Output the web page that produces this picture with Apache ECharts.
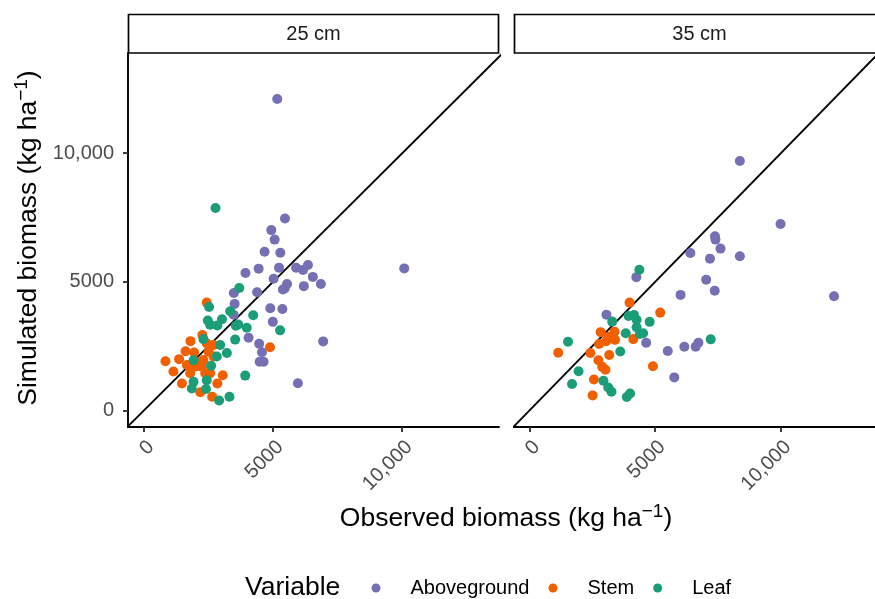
<!DOCTYPE html>
<html>
<head>
<meta charset="utf-8">
<script src="https://cdn.jsdelivr.net/npm/echarts@6/dist/echarts.min.js"></script>
<style>
  html, body { margin: 0; padding: 0; background: #fff; }
  #main { width: 875px; height: 599px; }
</style>
</head>
<body>
<div id="main"></div>
<script>
// observed / simulated biomass, kg ha-1  ([observed, simulated])
const panels = ['25 cm', '35 cm']
const variables = ['Aboveground', 'Stem', 'Leaf']
const colors = ['#7570B3', '#F06000', '#1B9E77']
const tickValues = [0, 5000, 10000]

const ag25 = [[5160, 12110], [5460, 7460], [4930, 7010], [5060, 6640], [4670, 6170], [5280, 6130],
  [3930, 5340], [4440, 5510], [5230, 5550], [5890, 5550], [6160, 5460], [6350, 5650], [6540, 5190],
  [6850, 4910], [6190, 4830], [5020, 5120], [5540, 4910], [5450, 4740], [5380, 4700], [10080, 5520],
  [4380, 4590], [3480, 4560], [3510, 4140], [4890, 3970], [5360, 3940], [3470, 3720], [4990, 3440],
  [4050, 2820], [4460, 2590], [6940, 2680], [4570, 2260], [4480, 1890], [4630, 1890], [5960, 1050]]
const st25 = [[2430, 4190], [1800, 2690], [2260, 2930], [1610, 2300], [1940, 2250], [830, 1910],
  [1360, 1990], [1140, 1510], [1660, 1760], [2050, 1890], [2240, 1700], [2500, 2280], [2690, 2090],
  [2370, 1440], [2560, 1440], [3050, 1360], [2840, 1040], [1470, 1040], [2180, 700], [2640, 530],
  [4880, 2450], [1980, 1700], [1790, 1440], [2430, 2610], [2300, 1960], [2690, 2540]]
const lf25 = [[2770, 7870], [3690, 4760], [2520, 4020], [3340, 3850], [4230, 3700], [2470, 3490],
  [3020, 3540], [3560, 3290], [3650, 3340], [3980, 3210], [5270, 3110], [2840, 3300], [2560, 3330],
  [2300, 2770], [3530, 2750], [2950, 2540], [3210, 2230], [2820, 2090], [2600, 1730], [3920, 1350],
  [1920, 1110], [2430, 1170], [1850, 850], [2400, 830], [3310, 530], [2910, 380], [1920, 1950]]

const ag35 = [[8370, 9700], [9990, 7250], [7380, 6770], [7400, 6640], [7600, 6290], [6400, 6120],
  [8370, 5990], [7180, 5900], [7030, 5080], [7370, 4650], [6010, 4490], [12120, 4440], [4250, 5180],
  [3060, 3720], [4640, 2630], [5500, 2310], [6160, 2470], [6610, 2470], [6720, 2630], [5760, 1280]]
const st35 = [[3980, 4190], [5200, 3800], [2830, 3040], [3380, 3060], [3150, 2860], [3400, 2740],
  [3050, 2690], [4130, 2770], [2770, 2580], [1140, 2240], [2420, 2230], [3170, 2150], [2740, 1950],
  [2890, 1690], [3020, 1580], [4910, 1710], [2560, 1200], [2510, 580]]
const lf35 = [[4370, 5470], [3290, 3450], [3940, 3670], [4160, 3710], [4260, 3520], [4780, 3440],
  [3830, 3000], [4260, 3230], [4390, 2970], [4520, 3000], [3610, 2290], [7210, 2760], [1530, 2670],
  [1950, 1520], [1690, 1020], [2940, 1150], [3130, 890], [3260, 720], [3870, 520], [4000, 650]]

const panelData = [[ag25, st25, lf25], [ag35, st35, lf35]]

const font = "'Liberation Sans', Arial, sans-serif"
const gridLefts = [128, 514]
const gridW = 371

const fmt = v => (v >= 10000 ? v.toLocaleString('en-US') : String(v))

const chart = echarts.init(document.getElementById('main'), null, { renderer: 'canvas' })

const grids = gridLefts.map(l => ({ left: l, top: 53, width: gridW, height: 374 }))

const xAxes = gridLefts.map((l, i) => ({
  type: 'value', gridIndex: i, min: -620, max: 13750,
  splitLine: { show: false },
  axisLine: { show: true, onZero: false, lineStyle: { color: '#000', width: 1.9 } },
  axisTick: { show: true, customValues: tickValues, length: 5, lineStyle: { color: '#333', width: 1.9 } },
  axisLabel: {
    customValues: tickValues, rotate: 45, margin: 10, verticalAlign: 'top', fontSize: 20,
    fontFamily: font, color: '#4d4d4d', formatter: fmt
  }
}))

const yAxes = gridLefts.map((l, i) => ({
  type: 'value', gridIndex: i, min: -650, max: 13900,
  splitLine: { show: false },
  axisLine: { show: i === 0, onZero: false, lineStyle: { color: '#000', width: 1.9 } },
  axisTick: { show: i === 0, customValues: tickValues, length: 5, lineStyle: { color: '#333', width: 1.9 } },
  axisLabel: {
    show: i === 0, customValues: tickValues, margin: 14, fontSize: 20,
    fontFamily: font, color: '#4d4d4d', formatter: fmt
  }
}))

const series = []
panels.forEach((p, i) => {
  // 1:1 line
  series.push({
    type: 'line', xAxisIndex: i, yAxisIndex: i, silent: true, symbol: 'none',
    data: [[-1000, -1000], [20000, 20000]],
    lineStyle: { color: '#000', width: 1.9 }, z: 1
  })
  variables.forEach((v, k) => {
    series.push({
      name: v, type: 'scatter', xAxisIndex: i, yAxisIndex: i,
      data: panelData[i][k], symbolSize: 10,
      itemStyle: { color: colors[k], opacity: 1 }, z: 2 + k
    })
  })
})

const strips = panels.map((p, i) => ({
  type: 'group',
  children: [
    {
      type: 'rect',
      shape: { x: gridLefts[i] + 0.5, y: 14.5, width: gridW - 1, height: 38.5 },
      style: { fill: '#fff', stroke: '#000', lineWidth: 1.7 }
    },
    {
      type: 'text', x: gridLefts[i] + gridW / 2, y: 34,
      style: { text: p, fontSize: 20, fontFamily: font, fill: '#1a1a1a', align: 'center', verticalAlign: 'middle' }
    }
  ]
}))

const titleRich = {
  t: { fontSize: 26.5, fontFamily: font, color: '#000', lineHeight: 34 },
  s: { fontSize: 19, fontFamily: font, color: '#000', lineHeight: 19, verticalAlign: 'top' }
}

chart.setOption({
  animation: false,
  backgroundColor: '#fff',
  grid: grids,
  xAxis: xAxes,
  yAxis: yAxes,
  legend: {
    data: variables, left: 366.5, top: 573, icon: 'circle',
    itemWidth: 9, itemHeight: 9, itemGap: 19,
    textStyle: { fontSize: 20, fontFamily: font, color: '#000', padding: [0, 0, 0, 25] }
  },
  graphic: [
    ...strips,
    {
      type: 'text', x: 506, y: 519,
      style: {
        text: '{t|Observed biomass (kg ha}{s|\u22121}{t|)}', rich: titleRich,
        align: 'center', verticalAlign: 'middle'
      }
    },
    {
      type: 'text', x: 29, y: 238, rotation: Math.PI / 2,
      style: {
        text: '{t|Simulated biomass (kg ha}{s|\u22121}{t|)}', rich: titleRich,
        align: 'center', verticalAlign: 'middle'
      }
    },
    {
      type: 'text', x: 245, y: 588,
      style: { text: 'Variable', fontSize: 26.5, fontFamily: font, fill: '#000', align: 'left', verticalAlign: 'middle' }
    }
  ],
  series: series
})

window.addEventListener('resize', () => chart.resize())
</script>
</body>
</html>
